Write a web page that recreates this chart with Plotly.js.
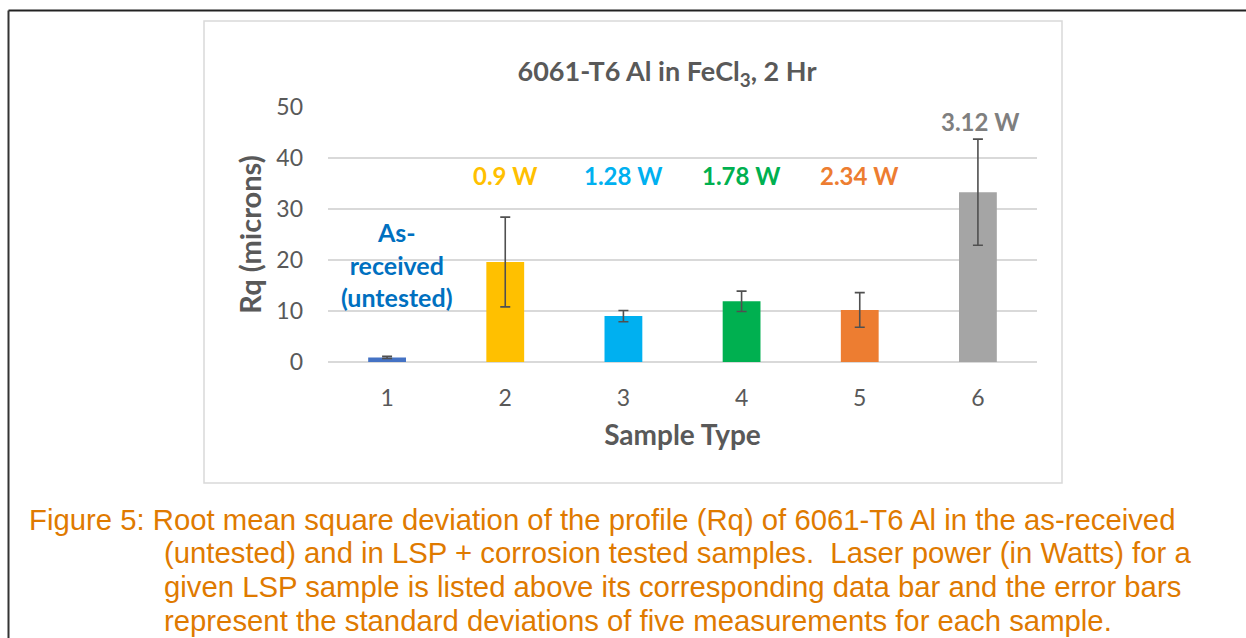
<!DOCTYPE html>
<html>
<head>
<meta charset="utf-8">
<script src="https://cdn.plot.ly/plotly-3.0.1.min.js"></script>
<style>
  html, body { margin: 0; padding: 0; background: #ffffff; }
  #chart { width: 1246px; height: 638px; }
</style>
</head>
<body>
<div id="chart"></div>
<script>
// ---- data ----
const categories = ["1", "2", "3", "4", "5", "6"];
const rqValues = [0.9, 19.6, 9.0, 11.9, 10.2, 33.3];
const rqErrors = [0.2, 8.8, 1.1, 2.0, 3.4, 10.4];
const barColors = ["#4472C4", "#FFC000", "#00B0F0", "#00B050", "#ED7D31", "#A5A5A5"];
const powerLabels = ["As-<br>received<br>(untested)", "0.9 W", "1.28 W", "1.78 W", "2.34 W", "3.12 W"];
const labelColors = ["#0070C0", "#FFC000", "#00B0F0", "#00B050", "#ED7D31", "#7F7F7F"];
const labelY = [19.2, 36.5, 36.5, 36.5, 36.5, 47.2];
const labelXOffset = [0.08, 0, 0, 0, 0, 0.02];
const captionLines = [
  "Figure 5: Root mean square deviation of the profile (Rq) of 6061-T6 Al in the as-received",
  "(untested) and in LSP + corrosion tested samples.  Laser power (in Watts) for a",
  "given LSP sample is listed above its corresponding data bar and the error bars",
  "represent the standard deviations of five measurements for each sample."
];

// ---- geometry helpers (plot area in pixels) ----
const W = 1246, H = 638;
const PL = 328, PR = 1037, PT = 107, PB = 362;
const px = x => (x - PL) / (PR - PL);
const py = y => (PB - y) / (PB - PT);

const chartFont = "Lato, 'Open Sans', sans-serif";
const grey = "#595959";

const trace = {
  type: "bar",
  x: categories,
  y: rqValues,
  width: 0.32,
  marker: { color: barColors },
  error_y: { type: "data", array: rqErrors, visible: true, color: "#505050", thickness: 1.6, width: 5 },
  hoverinfo: "x+y"
};

const annotations = [];
categories.forEach((c, i) => {
  annotations.push({
    x: i + labelXOffset[i], y: labelY[i], xref: "x", yref: "y",
    text: "<b>" + powerLabels[i] + "</b>",
    showarrow: false, xanchor: "center", yanchor: "middle",
    font: { family: chartFont, size: i === 0 ? 25 : 24, color: labelColors[i] },
    align: "center"
  });
});
const capY = [519, 552, 586, 620];
captionLines.forEach((t, i) => {
  annotations.push({
    x: px(i === 0 ? 27 : 162), y: py(capY[i]), xref: "paper", yref: "paper",
    text: t, showarrow: false, xanchor: "left", yanchor: "middle",
    font: { family: "'Liberation Sans', Arial, sans-serif", size: 29.3, color: "#DF7A00" }
  });
});

const shapes = [
  // chart area frame
  { type: "rect", xref: "paper", yref: "paper", x0: px(204), x1: px(1062), y0: py(483), y1: py(21),
    line: { color: "#D9D9D9", width: 1.5 }, fillcolor: "rgba(0,0,0,0)", layer: "below" },
  // outer page border (top and left)
  { type: "line", xref: "paper", yref: "paper", x0: px(8.5), x1: px(1250), y0: py(10.5), y1: py(10.5),
    line: { color: "#222222", width: 2 } },
  { type: "line", xref: "paper", yref: "paper", x0: px(8.5), x1: px(8.5), y0: py(10.5), y1: py(645),
    line: { color: "#333333", width: 2 } }
];

const layout = {
  width: W, height: H,
  margin: { l: PL, r: W - PR, t: PT, b: H - PB, pad: 0 },
  paper_bgcolor: "#ffffff", plot_bgcolor: "#ffffff",
  showlegend: false,
  font: { family: chartFont, color: grey },
  title: {
    text: "<b>6061-T6 Al in FeCl<sub>3</sub>, 2 Hr</b>",
    x: 667 / W, y: 1 - 72 / H, xanchor: "center", yanchor: "middle", xref: "container", yref: "container",
    font: { family: chartFont, size: 27, color: grey }
  },
  xaxis: {
    type: "category",
    range: [-0.5, 5.5],
    tickfont: { family: chartFont, size: 23, color: grey },
    ticks: "", showline: false, showgrid: false, zeroline: false,
    ticklabelstandoff: 20,
    automargin: false,
    title: { text: "<b>Sample Type</b>", font: { family: chartFont, size: 28, color: grey }, standoff: 15 }
  },
  yaxis: {
    range: [0, 50],
    dtick: 10,
    tickfont: { family: chartFont, size: 23, color: grey },
    ticks: "", showline: false,
    showgrid: true, gridcolor: "#D9D9D9", gridwidth: 1.5,
    zeroline: true, zerolinecolor: "#D9D9D9", zerolinewidth: 1.5,
    ticklabelstandoff: 24,
    automargin: false,
    title: { text: "<b>Rq (microns)</b>", font: { family: chartFont, size: 29, color: grey }, standoff: 6 }
  },
  annotations: annotations,
  shapes: shapes
};

Plotly.newPlot("chart", [trace], layout, { displayModeBar: false, staticPlot: true });
</script>
</body>
</html>
